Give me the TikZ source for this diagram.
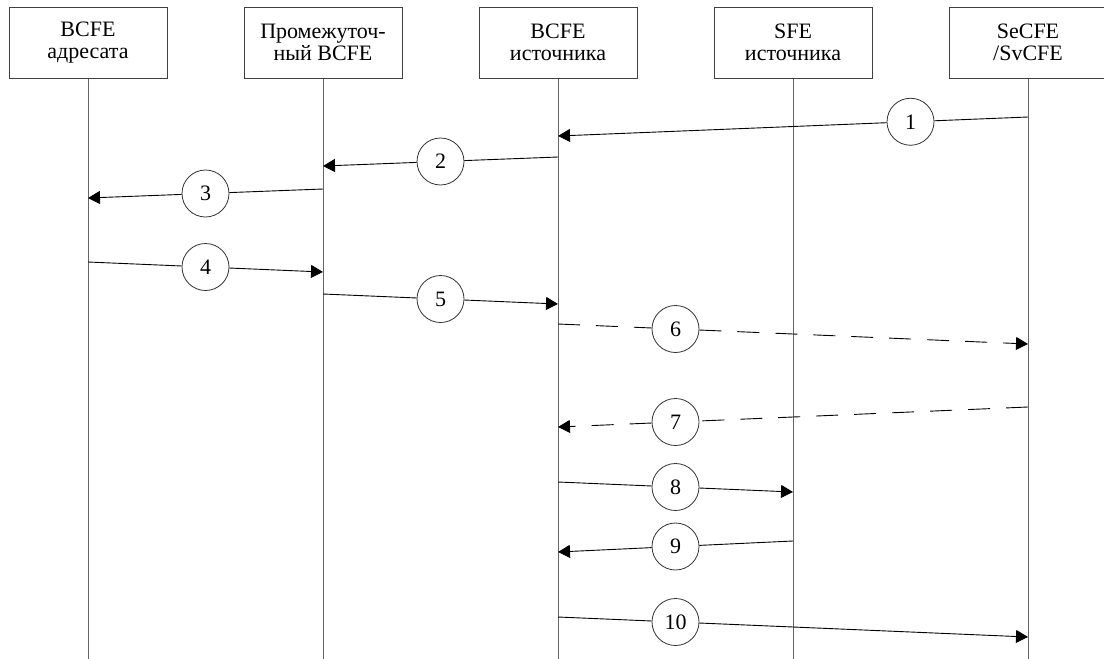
\documentclass[tikz,border=0pt]{standalone}
\usepackage{fontspec}
\setmainfont{Liberation Serif}
\usepackage{tikz}
\usetikzlibrary{arrows.meta,calc,positioning}

\begin{document}
\begin{tikzpicture}[x=0.5pt, y=-0.5pt, node distance=117.5pt,
    font=\fontsize{11}{11}\selectfont,
    entity/.style={rectangle, draw=black!75, line width=0.5pt, minimum width=79pt, minimum height=35.5pt, align=center, inner sep=0pt},
    lifeline/.style={draw=black!60, line width=0.5pt},
    num/.style={circle, draw=black!80, fill=white, line width=0.4pt, minimum size=23.5pt, inner sep=0pt},
    msg/.style={line width=0.45pt, -{Triangle[length=6pt,width=6.5pt]}},
    reply/.style={msg, dash pattern=on 11pt off 8pt}]
    \useasboundingbox (0,0) rectangle (1104,659);

    \node [entity] at (88,42.5) (dst) {BCFE\\адресата};
    \node [entity, right of=dst] (mid) {Промежуточ-\\ный BCFE};
    \node [entity, right of=mid] (src) {BCFE\\источника};
    \node [entity, right of=src] (sfe) {SFE\\источника};
    \node [entity, right of=sfe] (sec) {SeCFE\\/SvCFE};

    % lifelines
    \draw [lifeline] (dst.south) -- (dst |- 0,659);
    \draw [lifeline] (mid.south) -- (mid |- 0,659);
    \draw [lifeline] (src.south) -- (src |- 0,659);
    \draw [lifeline] (sfe.south) -- (sfe |- 0,659);
    \draw [lifeline] (sec.south) -- (sec |- 0,659);

    % messages
    \node [num] (n1) at ($(sec |- 0,117)!0.25!(src |- 0,136)$) {1};
    \draw [msg] (sec |- 0,117) -- (n1) -- (src |- 0,136);
    \node [num] (n2) at ($(src |- 0,157)!0.5!(mid |- 0,166)$) {2};
    \draw [msg] (src |- 0,157) -- (n2) -- (mid |- 0,166);
    \node [num] (n3) at ($(mid |- 0,189)!0.5!(dst |- 0,198)$) {3};
    \draw [msg] (mid |- 0,189) -- (n3) -- (dst |- 0,198);
    \node [num] (n4) at ($(dst |- 0,262)!0.5!(mid |- 0,272)$) {4};
    \draw [msg] (dst |- 0,262) -- (n4) -- (mid |- 0,272);
    \node [num] (n5) at ($(mid |- 0,294)!0.5!(src |- 0,304)$) {5};
    \draw [msg] (mid |- 0,294) -- (n5) -- (src |- 0,304);
    \node [num] (n6) at ($(src |- 0,324)!0.25!(sec |- 0,344)$) {6};
    \draw [reply] (src |- 0,324) -- (n6) -- (sec |- 0,344);
    \node [num] (n7) at ($(sec |- 0,407)!0.75!(src |- 0,427)$) {7};
    \draw [reply] (sec |- 0,407) -- (n7) -- (src |- 0,427);
    \node [num] (n8) at ($(src |- 0,482)!0.5!(sfe |- 0,492)$) {8};
    \draw [msg] (src |- 0,482) -- (n8) -- (sfe |- 0,492);
    \node [num] (n9) at ($(sfe |- 0,541)!0.5!(src |- 0,552)$) {9};
    \draw [msg] (sfe |- 0,541) -- (n9) -- (src |- 0,552);
    \node [num] (n10) at ($(src |- 0,617)!0.25!(sec |- 0,637)$) {10};
    \draw [msg] (src |- 0,617) -- (n10) -- (sec |- 0,637);
\end{tikzpicture}
\end{document}
